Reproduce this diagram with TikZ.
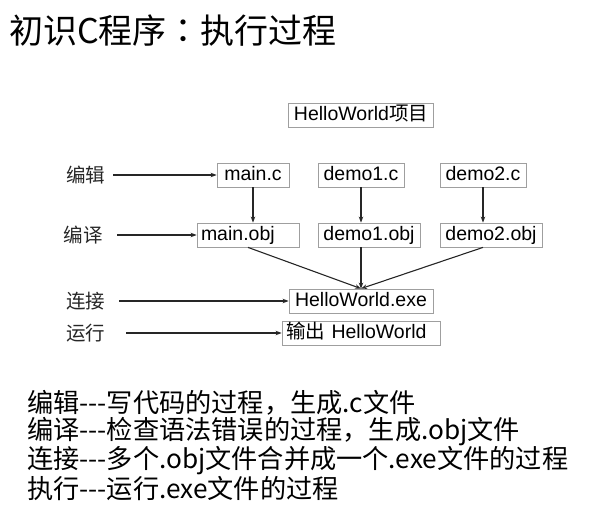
\documentclass[tikz,border=0pt]{standalone}
\usepackage{fontspec}
\setmainfont{Liberation Sans}
\newfontfamily\cjk{Noto Sans CJK SC}
\newfontfamily\cjktc{Noto Sans CJK TC}
\usetikzlibrary{arrows.meta}

\begin{document}
\begin{tikzpicture}[x=1pt,y=-1pt,
    filebox/.style={draw=gray!75, line width=0.8pt, inner xsep=4pt, inner ysep=3pt,
        text height=14pt, text depth=4pt, font=\fontsize{19.5}{22}\selectfont},
    steplabel/.style={font=\cjk\fontsize{19.5}{22}\selectfont, text=black!85},
    flow/.style={-{Stealth[length=6pt,width=4.5pt]}, line width=1.1pt, black!85}]
    \useasboundingbox (0,0) rectangle (590,509);

     % Titolo
    \node[anchor=west, inner sep=0, font=\cjk\fontsize{34}{40}\selectfont] (title) at (9,31) {初识C程序{\cjktc ：}执行过程};

     % File del progetto
    \node[filebox, minimum width=145pt] (proj) at (361,115) {HelloWorld{\cjk 项目}};
    \node[filebox, minimum width=72pt] (mainc) at (253,175) {main.c};
    \node[filebox, minimum width=86pt] (demo1c) at (361,175) {demo1.c};
    \node[filebox, minimum width=86pt] (demo2c) at (483,175) {demo2.c};
    \node[filebox, text width=94pt, align=left] (mainobj) at (248,235) {main.obj};
    \node[filebox, minimum width=102pt] (demo1obj) at (369,235) {demo1.obj};
    \node[filebox, minimum width=102pt] (demo2obj) at (491,235) {demo2.obj};
    \node[filebox, minimum width=144pt] (exe) at (361,301) {HelloWorld.exe};
    \node[filebox, text width=150pt, align=left] (output) at (361,333) {{\cjk 输出} HelloWorld};

     % Fasi
    \node[steplabel] (edit) at (86,175) {编辑};
    \node[steplabel] (compile) at (83,235) {编译};
    \node[steplabel] (link) at (86,301) {连接};
    \node[steplabel] (run) at (86,333) {运行};

    \draw[flow, shorten <=4pt] (edit) -- (mainc);
    \draw[flow, shorten <=11pt] (compile) -- (mainobj);
    \draw[flow, shorten <=10pt] (link) -- (exe);
    \draw[flow, shorten <=17pt] (run) -- (output);

     % Compilazione e collegamento
    \draw[flow] (mainc) -- (mainc |- mainobj.north);
    \draw[flow] (demo1c) -- (demo1c |- demo1obj.north);
    \draw[flow] (demo2c) -- (demo2c |- demo2obj.north);
    \draw[flow] (mainobj.south) -- (exe.north);
    \draw[flow] (demo1c |- demo1obj.south) -- (exe.north);
    \draw[flow] (demo2c |- demo2obj.south) -- (exe.north);

     % Spiegazione
    \node[anchor=north west, align=left, inner sep=0, font=\cjk\fontsize{26.2}{26.7}\selectfont] (notes) at (27,390)
        {编辑---写代码的过程，生成.c文件\\
         编译---检查语法错误的过程，生成.obj文件\\
         连接---多个.obj文件合并成一个.exe文件的过程\\
         执行---运行.exe文件的过程};
\end{tikzpicture}
\end{document}
